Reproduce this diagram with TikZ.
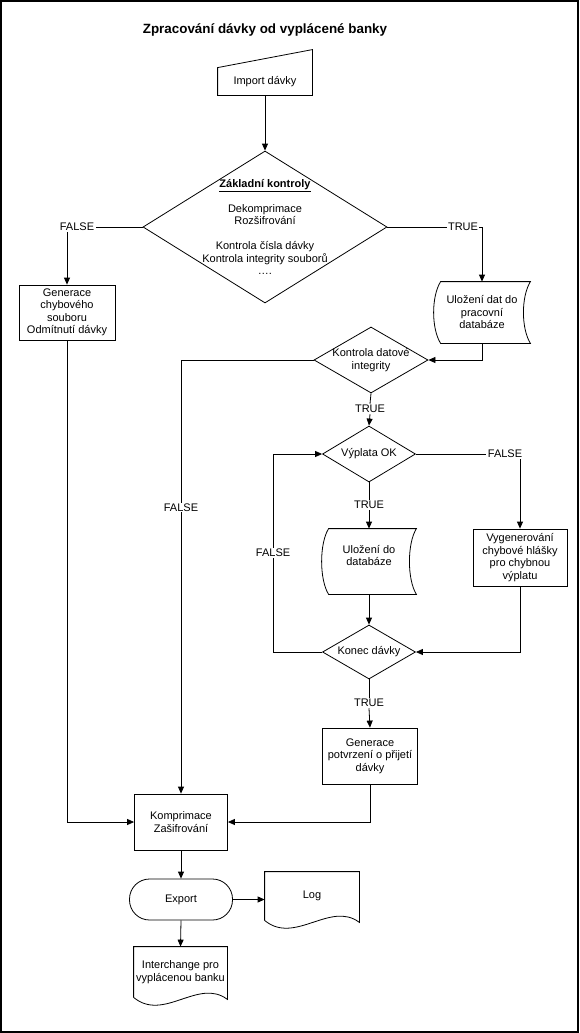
\documentclass[tikz,border=0pt]{standalone}
\usepackage{fontspec}
\setmainfont{Liberation Sans}
\usepackage{tikz}
\usetikzlibrary{shapes.geometric, calc, arrows.meta}
\tikzset{
  txt/.style={align=center, inner sep=0pt, font=\fontsize{11}{12.5}\selectfont},
  box/.style={txt, draw, rectangle},
  cond/.style={txt, draw, diamond, aspect=1.6, inner sep=-10pt},
  lbl/.style={inner sep=1pt, fill=white, font=\fontsize{11}{12.5}\selectfont},
  flow/.style={-{Triangle[length=7pt,width=6pt]}}
}
\newcommand{\storedpath}[1]{\draw ($(#1.north west)+(7,0)$) -- (#1.north east) .. controls ($(#1.north east)+(-9.3,15)$) and ($(#1.south east)+(-9.3,-15)$) .. (#1.south east) -- ($(#1.south west)+(7,0)$) .. controls ($(#1.south west)+(-2.3,-15)$) and ($(#1.north west)+(-2.3,15)$) .. cycle;}
\newcommand{\docpath}[1]{\draw (#1.south west) -- (#1.north west) -- (#1.north east) -- ($(#1.south east)+(0,2)$) .. controls ($(#1.south east)+(-29,-20)$) and ($(#1.south west)+(30,25)$) .. (#1.south west);}

\begin{document}
\begin{tikzpicture}[x=1pt, y=-1pt, line width=0.8pt]
\useasboundingbox (0,0) rectangle (580,1033);
\draw[line width=2pt] (1,1) rectangle (578,1032);
\node[font=\bfseries\fontsize{13.4}{16}\selectfont] (title) at (265,30) {Zpracování dávky od vyplácené banky};
\node[txt, minimum width=94pt, minimum height=26pt] (imp) at (265,82) {Import dávky};
\draw (imp.south west) -- ($(imp.north west)+(0,-1)$) -- ($(imp.north east)+(0,-19)$) -- (imp.south east) -- cycle;
\node[cond, minimum width=244pt, minimum height=152pt] (zakl) at (265,227) {\underline{\textbf{Základní kontroly}}\\[12.5pt] Dekomprimace\\ Rozšifrování\\[12.5pt] Kontrola čísla dávky\\ Kontrola integrity souborů\\ ….};
\node[lbl] (f1) at (77,227) {FALSE};
\node[box, minimum width=96pt, minimum height=55pt] (gen1) at (67,312.5) {Generace\\ chybového\\ souboru\\ Odmítnutí dávky};
\node[lbl] (t1) at (463,227) {TRUE};
\node[txt, minimum width=96pt, minimum height=61pt] (uloz1) at (482,312.5) {Uložení dat do\\ pracovní\\ databáze};
\storedpath{uloz1}
\node[cond, minimum width=114pt, minimum height=66pt] (kdi) at (371,360) {Kontrola datové\\ integrity};
\node[lbl] (t2) at (370,409) {TRUE};
\node[cond, minimum width=93pt, minimum height=56pt] (vyp) at (369,454) {Výplata OK};
\node[lbl] (f3) at (505,454) {FALSE};
\node[box, minimum width=94pt, minimum height=57pt] (vyg) at (520,557.5) {Vygenerování\\ chybové hlášky\\ pro chybnou\\ výplatu};
\node[lbl] (t3) at (369,505) {TRUE};
\node[txt, minimum width=94pt, minimum height=65pt, text depth=12pt] (uloz2) at (369,561.5) {Uložení do\\ databáze};
\storedpath{uloz2}
\node[cond, minimum width=93pt, minimum height=54pt] (konec) at (369,652) {Konec dávky};
\node[lbl] (t4) at (369,703) {TRUE};
\node[box, minimum width=95pt, minimum height=56pt] (genp) at (370,756) {Generace\\ potvrzení o přijetí\\ dávky};
\node[box, minimum width=93pt, minimum height=56pt] (komp) at (181,822) {Komprimace\\ Zašifrování};
\node[box, rounded corners=20pt, minimum width=103pt, minimum height=41pt] (export) at (181,899.5) {Export};
\node[txt, minimum width=94pt, minimum height=48pt] (log) at (312,896) {Log};
\docpath{log}
\node[txt, minimum width=93pt, minimum height=50pt] (inter) at (180.5,972) {Interchange pro\\ vyplácenou banku};
\docpath{inter}
\draw[flow] (imp.south) -- (zakl.north);
\draw (zakl.west) -- (f1.east);
\draw[flow] (f1.south -| gen1.north) -- (gen1.north);
\draw (zakl.east) -- (t1.west);
\draw[flow] (t1.east) -| (uloz1.north);
\draw[flow] (uloz1.south) |- (kdi.east);
\draw[flow] (kdi.west) -| node[lbl, pos=0.67] (f2) {FALSE} (komp.north);
\draw (kdi.south) -- (t2.north);
\draw[flow] (t2.south) -- (vyp.north);
\draw (vyp.east) -- (f3.west);
\draw[flow] (f3.south -| vyg.north) -- (vyg.north);
\draw (vyp.south) -- (t3.north);
\draw[flow] (t3.south) -- (uloz2.north);
\draw[flow] (uloz2.south) -- (konec.north);
\draw[flow] (vyg.south) |- (konec.east);
\draw[flow] (konec.west) -- ++(-49,0) |- node[lbl, pos=0.25] (f4) {FALSE} (vyp.west);
\draw (konec.south) -- (t4.north);
\draw[flow] (t4.south) -- (genp.north);
\draw[flow] (genp.south) |- (komp.east);
\draw[flow] (gen1.south) |- (komp.west);
\draw[flow] (komp.south) -- (export.north);
\draw[flow] (export.east) -- (export.east -| log.west);
\draw[flow] (export.south) -- (inter.north);
\end{tikzpicture}
\end{document}
